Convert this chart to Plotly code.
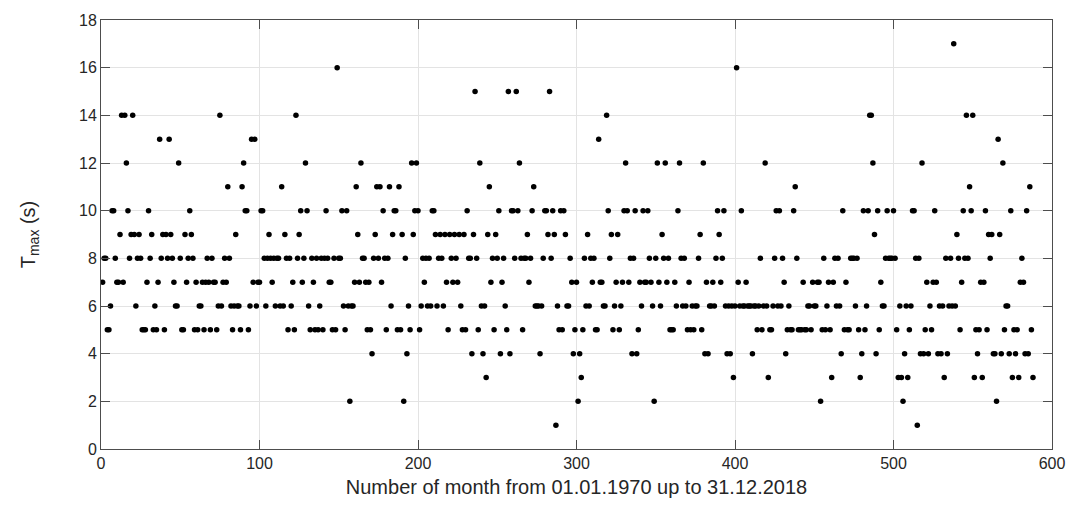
import plotly.graph_objects as go

months = list(range(1, 589))
tmax = [
    7, 8, 8, 5, 5, 6, 10, 10, 8, 7,
    7, 9, 14, 7, 14, 12, 10, 8, 9, 14,
    9, 6, 8, 9, 8, 5, 5, 5, 7, 10,
    8, 9, 5, 6, 5, 7, 13, 8, 9, 5,
    9, 8, 13, 9, 8, 7, 6, 6, 12, 8,
    5, 5, 9, 7, 8, 10, 9, 8, 5, 7,
    5, 6, 6, 7, 5, 7, 8, 7, 5, 8,
    7, 7, 5, 6, 14, 6, 7, 8, 7, 11,
    8, 6, 5, 6, 9, 6, 6, 5, 11, 12,
    10, 10, 5, 6, 13, 7, 13, 6, 7, 7,
    10, 10, 8, 6, 8, 9, 8, 7, 8, 6,
    8, 8, 6, 11, 6, 9, 8, 5, 8, 6,
    7, 5, 14, 8, 9, 10, 7, 8, 12, 10,
    6, 5, 8, 7, 5, 8, 5, 6, 8, 5,
    8, 10, 8, 7, 7, 5, 8, 5, 16, 8,
    8, 10, 6, 5, 10, 6, 2, 6, 6, 7,
    11, 9, 7, 12, 8, 8, 7, 5, 7, 5,
    4, 8, 9, 11, 8, 11, 7, 10, 8, 5,
    8, 11, 6, 9, 10, 10, 5, 11, 5, 9,
    2, 8, 4, 6, 5, 12, 9, 10, 12, 10,
    5, 6, 8, 7, 8, 6, 8, 6, 10, 10,
    9, 6, 8, 9, 8, 6, 9, 7, 5, 9,
    8, 7, 9, 8, 7, 9, 6, 5, 9, 5,
    10, 8, 8, 4, 9, 15, 8, 5, 12, 6,
    4, 6, 3, 9, 11, 7, 8, 5, 9, 8,
    10, 4, 7, 8, 6, 5, 15, 4, 10, 10,
    8, 15, 10, 12, 8, 5, 8, 8, 9, 7,
    8, 10, 11, 6, 6, 6, 4, 6, 8, 10,
    10, 9, 15, 8, 10, 9, 1, 6, 5, 10,
    5, 10, 9, 6, 6, 8, 7, 4, 5, 7,
    2, 4, 3, 5, 8, 6, 9, 6, 8, 7,
    8, 5, 5, 13, 7, 7, 6, 6, 14, 10,
    8, 9, 5, 6, 7, 9, 5, 6, 7, 10,
    12, 10, 7, 8, 4, 8, 10, 4, 5, 7,
    6, 10, 7, 7, 10, 8, 7, 6, 2, 8,
    12, 7, 6, 9, 8, 12, 7, 8, 5, 5,
    5, 7, 6, 10, 12, 8, 6, 8, 6, 5,
    7, 5, 6, 5, 6, 6, 8, 9, 5, 12,
    4, 7, 4, 6, 6, 7, 6, 8, 10, 9,
    7, 8, 10, 6, 4, 6, 4, 6, 3, 6,
    16, 7, 6, 10, 6, 6, 7, 6, 6, 6,
    4, 6, 6, 5, 6, 8, 5, 6, 12, 6,
    3, 5, 5, 6, 8, 10, 6, 10, 6, 8,
    7, 4, 5, 6, 5, 5, 10, 11, 8, 5,
    5, 5, 7, 5, 5, 6, 6, 5, 7, 6,
    6, 7, 7, 2, 5, 8, 5, 6, 7, 5,
    3, 7, 8, 6, 8, 6, 4, 10, 5, 7,
    5, 5, 8, 8, 8, 6, 8, 5, 3, 4,
    10, 5, 6, 10, 14, 14, 12, 9, 4, 10,
    5, 7, 6, 6, 8, 10, 8, 8, 8, 10,
    8, 5, 3, 6, 3, 2, 4, 6, 3, 5,
    6, 10, 10, 8, 1, 8, 4, 12, 4, 5,
    7, 4, 6, 5, 7, 10, 7, 4, 6, 4,
    6, 3, 8, 4, 6, 8, 6, 17, 6, 9,
    8, 5, 7, 10, 8, 14, 8, 11, 10, 14,
    3, 5, 4, 5, 7, 3, 7, 10, 5, 9,
    8, 9, 4, 4, 2, 13, 9, 4, 12, 5,
    6, 6, 4, 10, 3, 5, 4, 5, 3, 7,
    8, 7, 4, 10, 4, 11, 5, 3,
]

x_ticks = [0, 100, 200, 300, 400, 500, 600]
y_ticks = [0, 2, 4, 6, 8, 10, 12, 14, 16, 18]

fig = go.Figure()
fig.add_trace(go.Scatter(
    x=months, y=tmax, mode="markers",
    marker=dict(color="black", size=5.5, line=dict(width=0)),
    showlegend=False,
))

axis_common = dict(
    showline=True, linecolor="#4d4d4d", linewidth=1, mirror="ticks",
    ticks="inside", ticklen=9, tickcolor="#4d4d4d", tickwidth=1,
    showgrid=True, gridcolor="#e3e3e3", gridwidth=1,
    zeroline=False,
    tickfont=dict(family="Liberation Sans, Arial", size=16, color="#262626"),
)

fig.update_layout(
    width=1077, height=511,
    margin=dict(l=101, r=14, t=15, b=62),
    paper_bgcolor="white", plot_bgcolor="white",
    xaxis=dict(
        range=[0, 600], tickvals=x_ticks,
        title=dict(text="Number of month from 01.01.1970 up to 31.12.2018",
                   font=dict(family="Liberation Sans, Arial", size=20, color="#262626"),
                   standoff=8),
        **axis_common,
    ),
    yaxis=dict(
        range=[0, 18], tickvals=y_ticks,
        title=dict(text="T<sub>max</sub> (s)",
                   font=dict(family="Liberation Sans, Arial", size=20, color="#262626"),
                   standoff=38),
        **axis_common,
    ),
)

fig.write_html("out.html")
